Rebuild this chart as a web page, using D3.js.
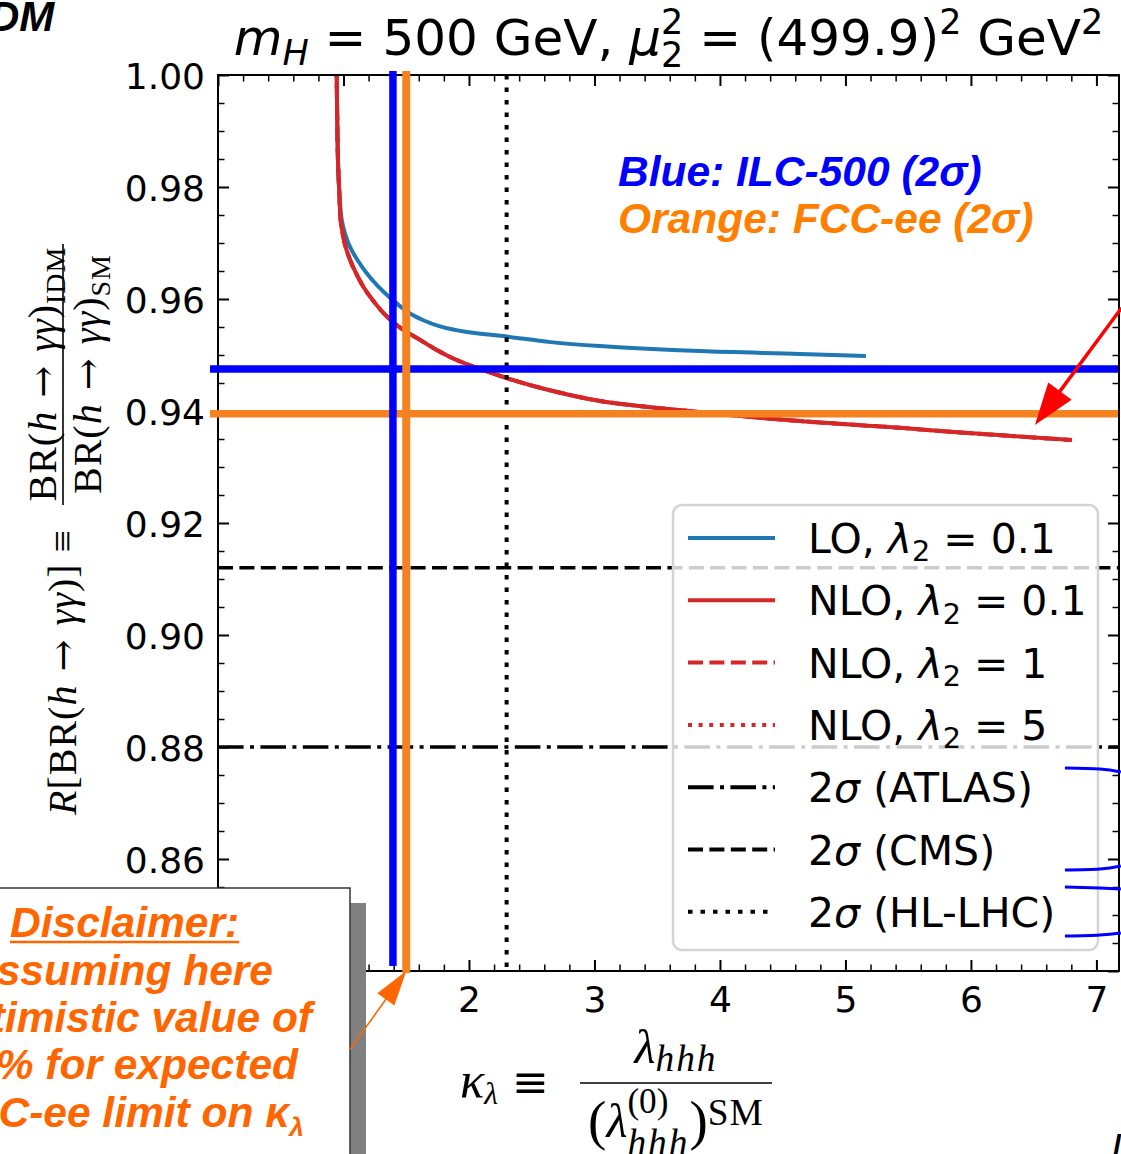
<!DOCTYPE html>
<html>
<head>
<meta charset="utf-8">
<script src="https://cdn.jsdelivr.net/npm/d3@7/dist/d3.min.js"></script>
<style>
  html, body { margin: 0; padding: 0; background: #fff; }
  svg { display: block; }
</style>
</head>
<body>
<svg id="chart" width="1121" height="1154"></svg>
<script>
// ---------------------------------------------------------------------------
// Data: R[BR(h -> gamma gamma)] as a function of kappa_lambda
// ---------------------------------------------------------------------------
const kappaLO = [0.942, 0.946, 0.951, 0.956, 0.967, 0.986, 1.012, 1.052, 1.110, 1.185, 1.278, 1.392, 1.530, 1.636, 1.769, 1.982, 2.300, 2.650, 3.044, 3.841, 4.637, 5.163];
const ratioLO = [1.006, 0.9997, 0.9908, 0.9848, 0.9789, 0.9741, 0.9717, 0.9693, 0.9670, 0.9646, 0.9622, 0.9598, 0.9574, 0.9562, 0.9551, 0.9541, 0.9533, 0.9523, 0.9516, 0.9507, 0.9502, 0.9498];

const kappaNLO = [0.942, 0.946, 0.951, 0.956, 0.967, 0.977, 0.993, 1.017, 1.052, 1.100, 1.158, 1.233, 1.323, 1.437, 1.610, 1.743, 1.902, 2.114, 2.353, 2.592, 3.044, 3.841, 4.637, 5.434, 5.833, 6.805];
const ratioNLO = [1.006, 0.9997, 0.9908, 0.9848, 0.9789, 0.9741, 0.9717, 0.9693, 0.9670, 0.9646, 0.9622, 0.9598, 0.9574, 0.9551, 0.9527, 0.9509, 0.9491, 0.9473, 0.9455, 0.9440, 0.9418, 0.9398, 0.9382, 0.9370, 0.9363, 0.9348];

// NLO curves for lambda_2 = 0.1, 1, 5 coincide at this scale
const lambda2Values = ["0.1", "0.1", "1", "5"];
const seriesOrders = ["LO", "NLO", "NLO", "NLO"];

// Current 2-sigma limits and projections
const limitNames = ["ATLAS", "CMS", "HL-LHC"];
const atlasLimit = 0.88;
const cmsLimit = 0.912;
const hllhcKappa = 2.30;

// Future collider 2-sigma reach
const ilcKappa = 1.394, ilcRatio = 0.9475;
const fccKappa = 1.50, fccRatio = 0.9395;

// Axis ticks
const xMajor = [0, 1, 2, 3, 4, 5, 6, 7];
const xTickLabels = ["0", "1", "2", "3", "4", "5", "6", "7"];
const yMajor = [0.84, 0.86, 0.88, 0.90, 0.92, 0.94, 0.96, 0.98, 1.00];
const yTickLabels = ["0.84", "0.86", "0.88", "0.90", "0.92", "0.94", "0.96", "0.98", "1.00"];
const xDomain = [0, 7.18];
const yDomain = [0.84, 1.00];

// Annotation arrows (data coordinates: [kappa, R])
const redArrowFrom = [7.20, 0.9584], redArrowTo = [6.51, 0.9375];
const orangeArrowFrom = [1.052, 0.826];

// Short blue brace strokes at the right-hand edge
const braceKappa = [6.749, 7.028, 7.195];
const braceRatios = [
  [0.87625, 0.87607, 0.87554],
  [0.85804, 0.85821, 0.85875],
  [0.85500, 0.85482, 0.85464],
  [0.84625, 0.84643, 0.84679]
];

const disclaimerLines = ["ssuming here", "timistic value of", "% for expected", "C-ee limit on "];

// ---------------------------------------------------------------------------
// Layout and styles
// ---------------------------------------------------------------------------
const SANS = "'DejaVu Sans', sans-serif";
const SERIF = "'Liberation Serif', 'Times New Roman', serif";
const ARROWF = "'DejaVu Serif', serif";
const SLIDE = "'Liberation Sans', Arial, sans-serif";
const C_LO = "#1f77b4", C_NLO = "#d62728";
const C_BLUE = "#0000ff", C_ORANGE = "#f58220", C_ORANGE_TXT = "#ff8000", C_DISC = "#ff6600";

const plot = { left: 218, right: 1119, top: 75, bottom: 971 };
const svg = d3.select("#chart");

const x = d3.scaleLinear().domain(xDomain).range([plot.left, plot.right]);
const y = d3.scaleLinear().domain(yDomain).range([plot.bottom, plot.top]);

svg.append("rect").attr("width", 1121).attr("height", 1154).attr("fill", "#fff");

// helpers -------------------------------------------------------------------
function measure(str, size, family, style, weight, spacing) {
  const t = svg.append("text").attr("font-size", size).attr("font-family", family)
    .attr("font-style", style || "normal").attr("font-weight", weight || "normal")
    .attr("letter-spacing", spacing || 0).text(str);
  const w = t.node().getComputedTextLength();
  t.remove();
  return w;
}

// text made of runs: {t, i (italic), s (scale), dy (em shift from baseline), f (family),
// ls (letter spacing), back (string to step back over, for stacked scripts)}
function mathText(parent, runs, o) {
  const t = parent.append("text")
    .attr("x", o.x).attr("y", o.y)
    .attr("font-size", o.size).attr("font-family", o.family)
    .attr("font-weight", o.weight || "normal")
    .attr("fill", o.fill || "#000")
    .attr("text-anchor", o.anchor || "start");
  if (o.ls) t.attr("letter-spacing", o.ls);
  let cur = 0;
  runs.forEach(r => {
    const s = r.s || 1;
    const target = (r.dy || 0) * o.size;
    const ts = t.append("tspan").text(r.t)
      .attr("font-size", o.size * s)
      .attr("font-style", r.i ? "italic" : (o.style || "normal"))
      .attr("dy", target - cur);
    cur = target;
    if (r.f) ts.attr("font-family", r.f);
    if (r.ls !== undefined) ts.attr("letter-spacing", r.ls);
    if (r.back) ts.attr("dx", -measure(r.back, o.size * (r.backS || 0.7), o.family,
      r.backI ? "italic" : "normal", o.weight, r.backLs));
  });
  return t;
}

function arrow(parent, from, to, color, lw, headLen, headW) {
  const dx = to[0] - from[0], dy = to[1] - from[1];
  const L = Math.hypot(dx, dy), ux = dx / L, uy = dy / L;
  const bx = to[0] - ux * headLen, by = to[1] - uy * headLen;
  parent.append("line").attr("x1", from[0]).attr("y1", from[1])
    .attr("x2", bx + ux * 2).attr("y2", by + uy * 2)
    .attr("stroke", color).attr("stroke-width", lw);
  parent.append("polygon")
    .attr("points", [[to[0], to[1]],
                     [bx - uy * headW / 2, by + ux * headW / 2],
                     [bx + uy * headW / 2, by - ux * headW / 2]].map(p => p.join(",")).join(" "))
    .attr("fill", color);
}

// ---------------------------------------------------------------------------
// Curves and limit lines (clipped to the axes)
// ---------------------------------------------------------------------------
svg.append("clipPath").attr("id", "axesClip").append("rect")
  .attr("x", plot.left).attr("y", plot.top)
  .attr("width", plot.right - plot.left).attr("height", plot.bottom - plot.top);
const inner = svg.append("g").attr("clip-path", "url(#axesClip)");

const line = d3.line().x(d => x(d[0])).y(d => y(d[1])).curve(d3.curveCatmullRom.alpha(0.5));
const loPts = kappaLO.map((k, i) => [k, ratioLO[i]]);
const nloPts = kappaNLO.map((k, i) => [k, ratioNLO[i]]);

const curveStyles = [
  { pts: loPts, color: C_LO, dash: null },
  { pts: nloPts, color: C_NLO, dash: null },
  { pts: nloPts, color: C_NLO, dash: "15,6.4" },
  { pts: nloPts, color: C_NLO, dash: "4,6.6" }
];
curveStyles.forEach(c => {
  inner.append("path").attr("d", line(c.pts)).attr("fill", "none")
    .attr("stroke", c.color).attr("stroke-width", 4)
    .attr("stroke-dasharray", c.dash);
});

const limitStyles = [
  { dash: "25.6,6.4,4,6.4" },
  { dash: "15,6.4" },
  { dash: "4.5,8" }
];
inner.append("line").attr("x1", x(xDomain[0])).attr("x2", x(xDomain[1]))
  .attr("y1", y(atlasLimit)).attr("y2", y(atlasLimit))
  .attr("stroke", "#000").attr("stroke-width", 3.5).attr("stroke-dasharray", limitStyles[0].dash);
inner.append("line").attr("x1", x(xDomain[0])).attr("x2", x(xDomain[1]))
  .attr("y1", y(cmsLimit)).attr("y2", y(cmsLimit))
  .attr("stroke", "#000").attr("stroke-width", 3.5).attr("stroke-dasharray", limitStyles[1].dash);
inner.append("line").attr("x1", x(hllhcKappa)).attr("x2", x(hllhcKappa))
  .attr("y1", y(yDomain[1])).attr("y2", y(yDomain[0]))
  .attr("stroke", "#000").attr("stroke-width", 4).attr("stroke-dasharray", limitStyles[2].dash);

// ---------------------------------------------------------------------------
// Legend
// ---------------------------------------------------------------------------
const leg = svg.append("g");
leg.append("rect").attr("x", 673).attr("y", 505).attr("width", 425).attr("height", 445)
  .attr("rx", 9).attr("fill", "#fff").attr("fill-opacity", 0.8)
  .attr("stroke", "#d4d4d4").attr("stroke-width", 2.5);

const legendRows = [];
seriesOrders.forEach((o, i) => legendRows.push({
  color: i === 0 ? C_LO : C_NLO, dash: curveStyles[i].dash,
  runs: [{ t: o + ", " }, { t: "λ", i: true }, { t: "2", s: 0.7, dy: 0.2 }, { t: " = " + lambda2Values[i] }]
}));
limitNames.forEach((n, i) => legendRows.push({
  color: "#000", dash: limitStyles[i].dash,
  runs: [{ t: "2" }, { t: "σ", i: true }, { t: " (" + n + ")" }]
}));
legendRows.forEach((r, i) => {
  const cy = 538 + i * 62.3;
  leg.append("line").attr("x1", 688).attr("x2", 775).attr("y1", cy).attr("y2", cy)
    .attr("stroke", r.color).attr("stroke-width", 4).attr("stroke-dasharray", r.dash);
  mathText(leg, r.runs, { x: 808, y: cy + 15, size: 41, family: SANS });
});

// ---------------------------------------------------------------------------
// Axes: inward ticks on all four sides
// ---------------------------------------------------------------------------
const xMinor = d3.range(0, 7.19, 0.2).filter(v => Math.abs(v - Math.round(v)) > 1e-6);
const yMinor = d3.range(0.84, 1.0001, 0.005).filter(v => Math.abs(v * 50 - Math.round(v * 50)) > 1e-6);

function styleAxis(g) {
  g.select(".domain").remove();
  g.attr("font-size", 36).attr("font-family", SANS);
  g.selectAll(".tick line").attr("stroke", "#000").attr("stroke-width", 2);
  g.selectAll(".tick text").attr("fill", "#000");
}
const fmtX = d => xTickLabels[xMajor.indexOf(d)];
const fmtY = d => yTickLabels[yMajor.findIndex(v => Math.abs(v - d) < 1e-9)];

svg.append("g").attr("transform", `translate(0,${plot.bottom})`)
  .call(d3.axisBottom(x).tickValues(xMajor).tickFormat(fmtX).tickSize(-11).tickPadding(15)).call(styleAxis);
svg.append("g").attr("transform", `translate(0,${plot.bottom})`)
  .call(d3.axisBottom(x).tickValues(xMinor).tickFormat("").tickSize(-6.5)).call(styleAxis)
  .selectAll(".tick line").attr("stroke-width", 1.5);
svg.append("g").attr("transform", `translate(0,${plot.top})`)
  .call(d3.axisTop(x).tickValues(xMajor).tickFormat("").tickSize(-11)).call(styleAxis);
svg.append("g").attr("transform", `translate(0,${plot.top})`)
  .call(d3.axisTop(x).tickValues(xMinor).tickFormat("").tickSize(-6.5)).call(styleAxis)
  .selectAll(".tick line").attr("stroke-width", 1.5);

const yl = svg.append("g").attr("transform", `translate(${plot.left},0)`)
  .call(d3.axisLeft(y).tickValues(yMajor).tickFormat(fmtY).tickSize(-11).tickPadding(13)).call(styleAxis);
yl.selectAll(".tick text").attr("dy", "0.37em");
svg.append("g").attr("transform", `translate(${plot.left},0)`)
  .call(d3.axisLeft(y).tickValues(yMinor).tickFormat("").tickSize(-6.5)).call(styleAxis)
  .selectAll(".tick line").attr("stroke-width", 1.5);
svg.append("g").attr("transform", `translate(${plot.right},0)`)
  .call(d3.axisRight(y).tickValues(yMajor).tickFormat("").tickSize(-11)).call(styleAxis);
svg.append("g").attr("transform", `translate(${plot.right},0)`)
  .call(d3.axisRight(y).tickValues(yMinor).tickFormat("").tickSize(-6.5)).call(styleAxis)
  .selectAll(".tick line").attr("stroke-width", 1.5);

svg.append("rect").attr("x", plot.left).attr("y", plot.top)
  .attr("width", plot.right - plot.left).attr("height", plot.bottom - plot.top)
  .attr("fill", "none").attr("stroke", "#000").attr("stroke-width", 2);

// ---------------------------------------------------------------------------
// Title and axis labels
// ---------------------------------------------------------------------------
mathText(svg, [
  { t: "m", i: true }, { t: "H", i: true, s: 0.7, dy: 0.2 },
  { t: " = 500 GeV, " },
  { t: "μ", i: true }, { t: "2", s: 0.7, dy: -0.42 }, { t: "2", s: 0.7, dy: 0.24, back: "2" },
  { t: " = (499.9)" }, { t: "2", s: 0.7, dy: -0.42 },
  { t: " GeV" }, { t: "2", s: 0.7, dy: -0.42 }
], { x: (plot.left + plot.right) / 2, y: 55, size: 50, family: SANS, anchor: "middle" });

// y label (rotated)
const ylab = svg.append("g").attr("transform", "rotate(-90)");
const arrowRun = { t: " → ", f: ARROWF, s: 0.95 };
mathText(ylab, [
  { t: "R", i: true }, { t: "[BR(" }, { t: "h", i: true }, arrowRun, { t: "γγ", i: true }, { t: ")] ≡" }
], { x: -815, y: 76, size: 40, family: SERIF, ls: 1 });
mathText(ylab, [
  { t: "BR(" }, { t: "h", i: true }, arrowRun, { t: "γγ", i: true }, { t: ")" }, { t: "IDM", s: 0.7, dy: 0.22 }
], { x: -374, y: 56, size: 40, family: SERIF, anchor: "middle", ls: 1 });
mathText(ylab, [
  { t: "BR(" }, { t: "h", i: true }, arrowRun, { t: "γγ", i: true }, { t: ")" }, { t: "SM", s: 0.7, dy: 0.22 }
], { x: -374, y: 101, size: 40, family: SERIF, anchor: "middle", ls: 1 });
ylab.append("line").attr("x1", -505).attr("x2", -244).attr("y1", 63).attr("y2", 63)
  .attr("stroke", "#000").attr("stroke-width", 1.6);

// x label
mathText(svg, [
  { t: "κ", i: true, s: 1.15 }, { t: "λ", i: true, s: 0.72, dy: 0.15 }, { t: " ≡", f: ARROWF }
], { x: 460, y: 1097, size: 44, family: SERIF });
mathText(svg, [
  { t: "λ", i: true, s: 1.1 }, { t: "hhh", i: true, s: 0.85, dy: 0.18, ls: 2 }
], { x: 676, y: 1063, size: 44, family: SERIF, anchor: "middle" });
mathText(svg, [
  { t: "(", s: 1.25, dy: 0.05 }, { t: "λ", i: true, s: 1.1 }, { t: "(0)", s: 0.8, dy: -0.55 },
  { t: "hhh", i: true, s: 0.85, dy: 0.4, ls: 2, back: "(0)", backS: 0.8 },
  { t: ")", s: 1.25, dy: 0.05, ls: 0 }, { t: "SM", s: 0.85, dy: -0.27, ls: 1 }
], { x: 676, y: 1137, size: 44, family: SERIF, anchor: "middle" });
svg.append("line").attr("x1", 580).attr("x2", 772).attr("y1", 1083).attr("y2", 1083)
  .attr("stroke", "#000").attr("stroke-width", 1.6);

// ---------------------------------------------------------------------------
// Collider reach lines and annotations
// ---------------------------------------------------------------------------
const ov = svg.append("g");
ov.append("line").attr("x1", x(xDomain[0]) - 8).attr("x2", x(xDomain[1]) - 1)
  .attr("y1", y(ilcRatio)).attr("y2", y(ilcRatio))
  .attr("stroke", C_BLUE).attr("stroke-width", 7.5);
ov.append("line").attr("x1", x(xDomain[0]) - 8).attr("x2", x(xDomain[1]) - 1)
  .attr("y1", y(fccRatio)).attr("y2", y(fccRatio))
  .attr("stroke", C_ORANGE).attr("stroke-width", 7.5);
ov.append("line").attr("x1", x(ilcKappa)).attr("x2", x(ilcKappa))
  .attr("y1", y(yDomain[1]) - 4).attr("y2", y(yDomain[0]) - 5)
  .attr("stroke", C_BLUE).attr("stroke-width", 7.5);
ov.append("line").attr("x1", x(fccKappa)).attr("x2", x(fccKappa))
  .attr("y1", y(yDomain[1]) - 4).attr("y2", y(yDomain[0]) + 2)
  .attr("stroke", C_ORANGE).attr("stroke-width", 8);

mathText(ov, [{ t: "Blue: ILC-500 (2σ)" }],
  { x: 618, y: 186, size: 42.5, family: SLIDE, weight: "bold", style: "italic", fill: C_BLUE });
mathText(ov, [{ t: "Orange: FCC-ee (2σ)" }],
  { x: 618, y: 233, size: 42.5, family: SLIDE, weight: "bold", style: "italic", fill: C_ORANGE_TXT });

arrow(ov, [x(redArrowFrom[0]), y(redArrowFrom[1])], [x(redArrowTo[0]), y(redArrowTo[1])], "#ff0000", 3.5, 42, 29);

const braceLine = d3.line().curve(d3.curveNatural);
braceRatios.forEach(rs => {
  ov.append("path").attr("d", braceLine(braceKappa.map((k, i) => [x(k), y(rs[i])])))
    .attr("fill", "none").attr("stroke", C_BLUE).attr("stroke-width", 3);
});

// top-left slide heading fragment
svg.append("text").attr("x", -11).attr("y", 31).attr("font-family", SLIDE)
  .attr("font-weight", "bold").attr("font-style", "italic").attr("font-size", 42).attr("fill", "#000").text("DM");
svg.append("text").attr("x", 1111).attr("y", 1162).attr("font-family", SLIDE)
  .attr("font-style", "italic").attr("font-size", 40).attr("fill", "#000").text("L");

// ---------------------------------------------------------------------------
// Disclaimer box
// ---------------------------------------------------------------------------
const box = svg.append("g");
box.append("rect").attr("x", 350).attr("y", 903).attr("width", 16).attr("height", 260).attr("fill", "#808080");
box.append("rect").attr("x", -4).attr("y", 888).attr("width", 354).attr("height", 280)
  .attr("fill", "#fff").attr("stroke", "#333").attr("stroke-width", 1.5);

const discOpts = { size: 42.5, family: SLIDE, weight: "bold", style: "italic", fill: C_DISC };
mathText(box, [{ t: "Disclaimer:" }], Object.assign({ x: 10, y: 937 }, discOpts));
const dw = measure("Disclaimer:", 42.5, SLIDE, "italic", "bold");
box.append("line").attr("x1", 10).attr("x2", 10 + dw).attr("y1", 942).attr("y2", 942)
  .attr("stroke", C_DISC).attr("stroke-width", 2.5);
const discRight = [273, 312, 298, 304];
const discBase = [985, 1032, 1079, 1127];
disclaimerLines.forEach((s, i) => {
  const runs = i === 3
    ? [{ t: s }, { t: "κ" }, { t: "λ", s: 0.62, dy: 0.22 }]
    : [{ t: s }];
  mathText(box, runs, Object.assign({ x: discRight[i], y: discBase[i], anchor: "end" }, discOpts));
});

arrow(box, [x(orangeArrowFrom[0]), y(orangeArrowFrom[1])], [x(fccKappa), y(yDomain[0])], C_DISC, 1.6, 35, 21);
</script>
</body>
</html>
